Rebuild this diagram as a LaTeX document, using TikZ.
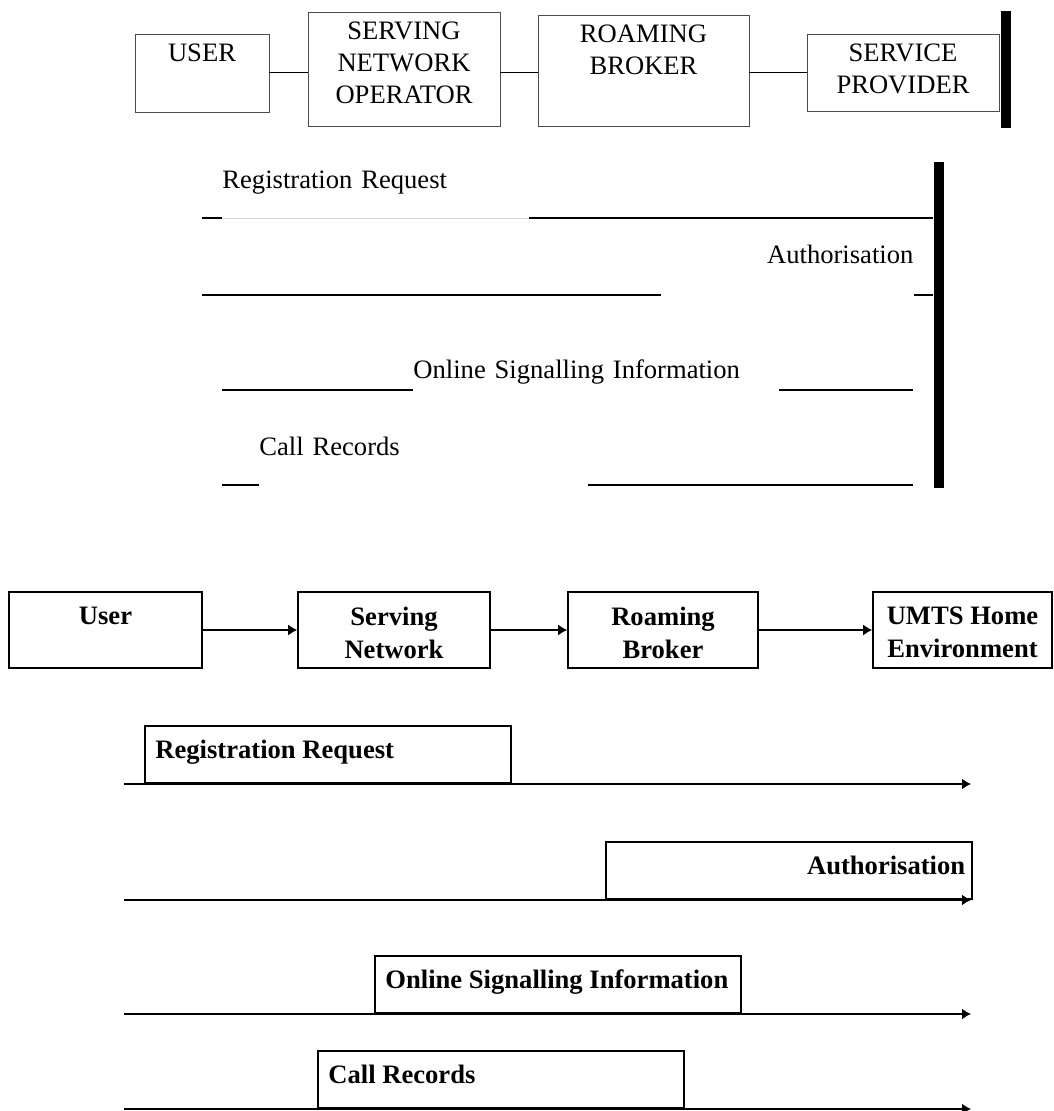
\documentclass[tikz,border=0pt]{standalone}
\usepackage{fontspec}
\setmainfont{Liberation Serif}
\usetikzlibrary{arrows.meta}
\usetikzlibrary{positioning}

\begin{document}
\begin{tikzpicture}
	[
	x=0.5pt, y=-0.5pt,
  > = {Latex[length=4.5pt,width=5.5pt]},
  every node/.style = {font=\fontsize{13.3}{16}\selectfont},
  box/.style = {draw=black!70, line width=0.4pt, inner sep=0pt},
  lbl/.style = {anchor=north, align=center, inner sep=0pt, yshift=-5pt},
  link/.style = {line width=0.65pt},
  bar/.style = {fill, inner sep=0pt, minimum width=5pt},
  sigline/.style = {line width=0.75pt},
  msg/.style = {anchor=south west, inner sep=0pt, align=left},
  bbox/.style = {draw, line width=0.8pt, inner sep=0pt, minimum height=38pt},
  blbl/.style = {anchor=north, align=center, inner sep=0pt, yshift=-7.5pt,
    font=\fontsize{13.3}{16.5}\selectfont\bfseries},
  bline/.style = {->, line width=0.8pt},
  bmsg/.style = {draw, line width=0.8pt, anchor=south west, inner sep=0pt,
    minimum width=183pt, minimum height=28.5pt},
  mlbl/.style = {inner sep=0pt, xshift=5.5pt, yshift=-2pt, anchor=base west,
    font=\fontsize{13.3}{16}\selectfont\bfseries}
  ]
	\useasboundingbox (0,0) rectangle (1053,1111);

	% first chain
	\node[box, minimum width=67pt, minimum height=39pt, label={[lbl]north:USER}] (user) at (202,73) {};
	\node[box, minimum width=96pt, minimum height=57pt, label={[lbl]north:SERVING\\NETWORK\\OPERATOR}] (sno) at (404,69) {};
	\node[box, minimum width=105.5pt, minimum height=55.5pt, label={[lbl]north:ROAMING\\BROKER}] (rb) at (643.5,70.5) {};
	\node[box, minimum width=96pt, minimum height=38.5pt, label={[lbl]north:SERVICE\\PROVIDER}] (sp) at (903,72.5) {};
	\node[bar, minimum height=58.5pt] (spbar) at (1006,69.5) {};

	\draw[link] (user.east |- sp.west) -- (sno.west |- sp.west);
	\draw[link] (sno.east |- sp.west) -- (rb.west |- sp.west);
	\draw[link] (rb.east |- sp.west) -- (sp.west);

	\coordinate (r1) at (202,218);
	\coordinate (r2) at (933,218);
	\coordinate (a1) at (202,295);
	\coordinate (a2) at (933,295);
	\coordinate (o1) at (222,390);
	\coordinate (o2) at (913,390);
	\coordinate (c1) at (222,485);
	\coordinate (c2) at (913,485);

	\node[msg, text width=153pt, minimum height=35.4pt] (req) at (222,218) {Registration Request};
	\node[msg, text width=126pt, minimum height=40.3pt, align=right] (aut) at (661,295) {Authorisation};
	\node[msg, text width=182.5pt, minimum height=17.4pt] (osi) at (413,390) {Online Signalling Information};
	\node[msg, text width=164pt, minimum height=38.3pt] (cr) at (259,485) {Call Records};
	\node[bar, minimum height=163pt] (bar) at (939,325) {};

	\draw[sigline] (r1) -- (req.south west);
	\draw[black!15, line width=0.4pt] (req.south west) -- (req.south east);
	\draw[sigline] (req.south east) -- (r2);
	\draw[sigline] (a1) -- (aut.south west);
	\draw[sigline] (aut.south east) -- (a2);
	\draw[sigline] (o1) -- (osi.south west);
	\draw[sigline] (osi.south east) -- (o2);
	\draw[sigline] (c1) -- (cr.south west);
	\draw[sigline] (cr.south east) -- (c2);

	% second chain
	\node[bbox, minimum width=96.5pt, label={[blbl]north:User}] (user2) at (105.5,630) {};
	\node[bbox, minimum width=96pt, label={[blbl]north:Serving\\Network}] (sn2) at (394,630) {};
	\node[bbox, minimum width=95pt, label={[blbl]north:Roaming\\Broker}] (rb2) at (663,630) {};
	\node[bbox, minimum width=89.5pt, label={[blbl]north:UMTS Home\\Environment}] (he2) at (962.5,630) {};

	\draw[bline] (user2) -- (sn2);
	\draw[bline] (sn2) -- (rb2);
	\draw[bline] (rb2) -- (he2);

	\coordinate (m1) at (124,784);
	\coordinate (m2) at (971,784);
	\coordinate (n1) at (124,900);
	\coordinate (n2) at (971,900);
	\coordinate (p1) at (124,1014);
	\coordinate (p2) at (971,1014);
	\coordinate (q1) at (124,1109);
	\coordinate (q2) at (971,1109);

	\draw[bline] (m1) -- (m2);
	\draw[bline] (n1) -- (n2);
	\draw[bline] (p1) -- (p2);
	\draw[bline] (q1) -- (q2);

	\node[bmsg, label={[mlbl]west:Registration Request}] (req2) at (144,784) {};
	\node[bmsg, label={[mlbl, anchor=base east, xshift=-9pt]east:Authorisation}] (aut2) at (605,900) {};
	\node[bmsg, label={[mlbl]west:Online Signalling Information}] (osi2) at (374,1014) {};
	\node[bmsg, label={[mlbl]west:Call Records}] (cr2) at (317,1109) {};

\end{tikzpicture}
\end{document}
